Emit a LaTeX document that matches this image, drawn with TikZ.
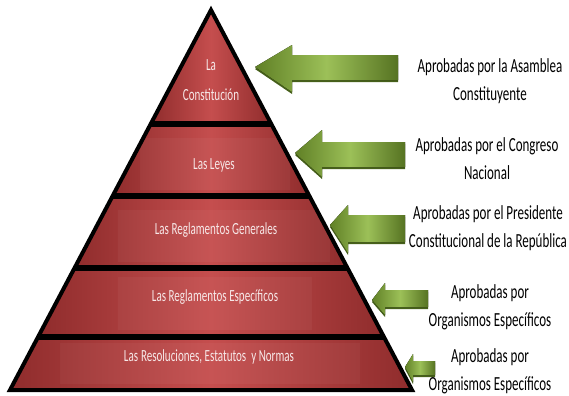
\documentclass[tikz,border=0pt]{standalone}
\usepackage{fontspec}
\usepackage{tikz}
\usepackage{xcolor}

\newfontfamily\narrowcal[FakeStretch=0.65]{Carlito}

\definecolor{banddark}{RGB}{143,44,44}
\definecolor{bandlight}{RGB}{197,78,78}
\definecolor{arrowdark}{RGB}{96,128,38}
\definecolor{arrowlight}{RGB}{156,192,88}
\definecolor{arrowrim}{RGB}{70,96,26}
\definecolor{levelwhite}{RGB}{247,232,232}

\tikzset{
  band/.style={left color=banddark, right color=banddark, middle color=bandlight},
  glow/.style={fill=white, fill opacity=0.04, draw=none},
  greenarrow/.style={left color=arrowdark, right color=arrowdark!90!black, middle color=arrowlight},
  arrowshadow/.style={fill=arrowrim},
  leveltext/.style={inner sep=0.75pt, align=center, text=levelwhite,
    font=\narrowcal\fontsize{12.75}{22.5}\selectfont},
  sidetext/.style={inner sep=0.75pt, align=center, text=black,
    font=\narrowcal\fontsize{15}{21}\selectfont}
}

\begin{document}
\begin{tikzpicture}[x=0.75pt,y=0.75pt,yscale=-1,xscale=1]
\useasboundingbox (0,0) rectangle (569,396);

%Shape: Pyramid bands
\fill [band] (211,10) -- (271.3,124) -- (150.7,124) -- cycle ;
\fill [band] (150.7,124) -- (271.3,124) -- (309.4,196) -- (112.6,196) -- cycle ;
\fill [band] (112.6,196) -- (309.4,196) -- (347.5,268) -- (74.5,268) -- cycle ;
\fill [band] (74.5,268) -- (347.5,268) -- (384,337) -- (38,337) -- cycle ;
\fill [band] (38,337) -- (384,337) -- (412,390) -- (10,390) -- cycle ;
%Shape: Inner glow
\fill [glow] (140,138) rectangle (290,190) ;
\fill [glow] (118,210) rectangle (330,262) ;
\fill [glow] (118,277) rectangle (312,330) ;
\fill [glow] (60,343) rectangle (360,384) ;
%Straight Lines: separators
\draw [line width=4pt] (150.7,124) -- (271.3,124) ;
\draw [line width=4pt] (112.6,196) -- (309.4,196) ;
\draw [line width=4pt] (74.5,268) -- (347.5,268) ;
\draw [line width=4pt] (38,337) -- (384,337) ;
%Shape: Pyramid outline
\draw [line width=3pt, line join=miter] (211,10) -- (412,390) -- (10,390) -- cycle ;

%Shape: Arrow 1
\fill [arrowshadow] (255,69) -- (292,47) -- (292,58) -- (398,58) -- (398,82) -- (292,82) -- (292,94) -- cycle ;
\fill [greenarrow] (255,67) -- (292,45) -- (292,55) -- (398,55) -- (398,80) -- (292,80) -- (292,92) -- cycle ;
%Shape: Arrow 2
\fill [arrowshadow] (295,155) -- (322,132) -- (322,144) -- (405,144) -- (405,169) -- (322,169) -- (322,179) -- cycle ;
\fill [greenarrow] (295,153) -- (322,130) -- (322,142) -- (405,142) -- (405,167) -- (322,167) -- (322,177) -- cycle ;
%Shape: Arrow 3
\fill [arrowshadow] (330,227) -- (348,207) -- (348,217) -- (405,217) -- (405,244) -- (348,244) -- (348,255) -- cycle ;
\fill [greenarrow] (330,225) -- (348,205) -- (348,215) -- (405,215) -- (405,242) -- (348,242) -- (348,253) -- cycle ;
%Shape: Arrow 4
\fill [arrowshadow] (372,302) -- (385,285) -- (385,292) -- (428,292) -- (428,309) -- (385,309) -- (385,317) -- cycle ;
\fill [greenarrow] (372,300) -- (385,283) -- (385,290) -- (428,290) -- (428,307) -- (385,307) -- (385,315) -- cycle ;
%Shape: Arrow 5
\fill [arrowshadow] (405,369) -- (413,356) -- (413,363) -- (435,363) -- (435,377) -- (413,377) -- (413,384) -- cycle ;
\fill [greenarrow] (405,367) -- (413,354) -- (413,361) -- (435,361) -- (435,375) -- (413,375) -- (413,382) -- cycle ;

% Text Node
\node [leveltext] (constitucion) at (211,80) {La\\Constitución};
% Text Node
\node [leveltext] (leyes) at (214,165) {Las Leyes};
% Text Node
\node [leveltext] (generales) at (216,230) {Las Reglamentos Generales};
% Text Node
\node [leveltext] (especificos) at (215,297) {Las Reglamentos Específicos};
% Text Node
\node [leveltext] (normas) at (209,357) {Las\,Resoluciones,\ Estatutos\ \ y Normas};

% Text Node
\node [sidetext] (asamblea) at (490,81) {Aprobadas por la Asamblea\\Constituyente};
% Text Node
\node [sidetext] (congreso) at (487,159) {Aprobadas por el Congreso\\Nacional};
% Text Node
\node [sidetext] (presidente) at (488,228.5) {Aprobadas por el Presidente\\Constitucional de la República};
% Text Node
\node [sidetext] (organismosA) at (490,307.5) {Aprobadas por\\Organismos Específicos};
% Text Node
\node [sidetext] (organismosB) at (490,371.5) {Aprobadas por\\Organismos Específicos};

\end{tikzpicture}
\end{document}
